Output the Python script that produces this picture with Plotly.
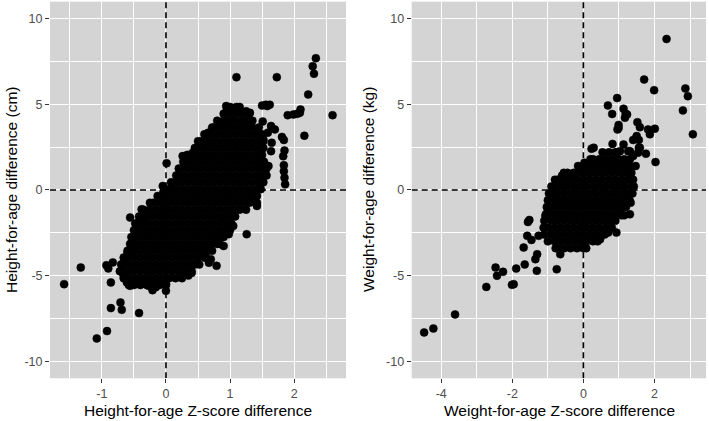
import plotly.graph_objects as go

# ---------------- data: left panel (height-for-age) ----------------
hfa_row_cm = [4.85, 4.45, 4.05, 3.65, 3.25, 2.85, 2.45, 2.05, 1.65, 1.25, 0.85, 0.45, 0.05,
              -0.35, -0.75, -1.15, -1.55, -1.95, -2.35, -2.75, -3.15, -3.55, -3.95, -4.35,
              -4.75, -5.15, -5.55]
hfa_row_z = [
    [0.96, 1.0, 1.1, 1.15],
    [0.9, 0.95, 1.05, 1.15, 1.25, 1.3],
    [0.8, 0.9, 1.0, 1.1, 1.2, 1.3, 1.35],
    [0.72, 0.75, 0.85, 0.95, 1.05, 1.15, 1.25, 1.35, 1.45],
    [0.6, 0.7, 0.8, 0.9, 1.0, 1.1, 1.2, 1.3, 1.4, 1.5],
    [0.5, 0.55, 0.65, 0.75, 0.85, 0.95, 1.05, 1.15, 1.25, 1.35, 1.45, 1.52],
    [0.45, 0.5, 0.6, 0.7, 0.8, 0.9, 1.0, 1.1, 1.2, 1.3, 1.4, 1.5, 1.52],
    [0.33, 0.35, 0.45, 0.55, 0.65, 0.75, 0.85, 0.95, 1.05, 1.15, 1.25, 1.35, 1.45, 1.5],
    [0.27, 0.3, 0.4, 0.5, 0.6, 0.7, 0.8, 0.9, 1.0, 1.1, 1.2, 1.3, 1.4, 1.5, 1.53],
    [0.2, 0.25, 0.35, 0.45, 0.55, 0.65, 0.75, 0.85, 0.95, 1.05, 1.15, 1.25, 1.35, 1.45, 1.55, 1.57],
    [0.16, 0.2, 0.3, 0.4, 0.5, 0.6, 0.7, 0.8, 0.9, 1.0, 1.1, 1.2, 1.3, 1.4, 1.5, 1.57],
    [0.08, 0.15, 0.25, 0.35, 0.45, 0.55, 0.65, 0.75, 0.85, 0.95, 1.05, 1.15, 1.25, 1.35, 1.45, 1.52],
    [0.02, 0.1, 0.2, 0.3, 0.4, 0.5, 0.6, 0.7, 0.8, 0.9, 1.0, 1.1, 1.2, 1.3, 1.4, 1.48],
    [-0.13, -0.05, 0.05, 0.15, 0.25, 0.35, 0.45, 0.55, 0.65, 0.75, 0.85, 0.95, 1.05, 1.15, 1.25, 1.35, 1.42],
    [-0.25, -0.2, -0.1, 0.0, 0.1, 0.2, 0.3, 0.4, 0.5, 0.6, 0.7, 0.8, 0.9, 1.0, 1.1, 1.2, 1.3, 1.4, 1.42],
    [-0.35, -0.25, -0.15, -0.05, 0.05, 0.15, 0.25, 0.35, 0.45, 0.55, 0.65, 0.75, 0.85, 0.95, 1.05, 1.15, 1.25],
    [-0.42, -0.4, -0.3, -0.2, -0.1, 0.0, 0.1, 0.2, 0.3, 0.4, 0.5, 0.6, 0.7, 0.8, 0.9, 1.0, 1.08],
    [-0.48, -0.45, -0.35, -0.25, -0.15, -0.05, 0.05, 0.15, 0.25, 0.35, 0.45, 0.55, 0.65, 0.75, 0.85, 0.95, 1.02],
    [-0.5, -0.4, -0.3, -0.2, -0.1, 0.0, 0.1, 0.2, 0.3, 0.4, 0.5, 0.6, 0.7, 0.8, 0.9, 1.0],
    [-0.54, -0.45, -0.35, -0.25, -0.15, -0.05, 0.05, 0.15, 0.25, 0.35, 0.45, 0.55, 0.65, 0.75, 0.85, 0.9],
    [-0.56, -0.5, -0.4, -0.3, -0.2, -0.1, 0.0, 0.1, 0.2, 0.3, 0.4, 0.5, 0.6, 0.7, 0.8, 0.84],
    [-0.6, -0.55, -0.45, -0.35, -0.25, -0.15, -0.05, 0.05, 0.15, 0.25, 0.35, 0.45, 0.55, 0.65, 0.72],
    [-0.66, -0.6, -0.5, -0.4, -0.3, -0.2, -0.1, 0.0, 0.1, 0.2, 0.3, 0.4, 0.5, 0.6, 0.62],
    [-0.7, -0.65, -0.55, -0.45, -0.35, -0.25, -0.15, -0.05, 0.05, 0.15, 0.25, 0.35, 0.45, 0.52],
    [-0.72, -0.7, -0.6, -0.5, -0.4, -0.3, -0.2, -0.1, 0.0, 0.1, 0.2, 0.3, 0.4],
    [-0.66, -0.55, -0.45, -0.35, -0.25, -0.15, -0.05, 0.05, 0.15, 0.25],
    [-0.58, -0.5, -0.4, -0.3, -0.2, -0.1, 0.0],
]
hfa_edge = [
    (-1.59, -5.50), (-1.33, -4.53), (-1.08, -8.67), (-0.92, -8.24), (-0.86, -6.90), (-0.71, -6.57),
    (-0.69, -7.00), (-0.42, -7.19), (-0.86, -5.40), (-0.90, -4.58), (-0.83, -4.23), (-0.93, -4.40),
    (0.01, 1.56), (1.10, 6.59), (1.73, 6.59), (2.34, 7.70), (2.29, 7.23), (2.31, 6.79), (2.22, 5.58),
    (2.60, 4.37), (2.16, 3.17), (2.09, 4.51), (1.99, 4.41), (1.90, 4.37), (2.05, 4.45), (2.10, 4.70),
    (1.86, 0.33), (1.85, 0.72), (1.84, 1.10), (1.84, 1.45), (1.83, 1.97), (1.85, 2.30), (1.81, 3.10),
    (1.84, 2.92), (1.70, 3.54), (1.64, 3.74), (1.59, 3.35), (1.51, 4.00), (1.50, 4.93), (1.56, 4.98),
    (1.62, 4.98), (1.58, 4.90), (1.14, 4.80), (0.95, 4.70), (0.94, 4.90), (0.87, 3.73), (1.26, -2.58),
    (0.98, -2.58), (0.87, -1.70), (0.79, -4.43), (0.67, -4.25), (0.70, -4.05), (0.35, -5.00),
    (0.40, -4.85), (0.00, -5.89), (0.00, -5.50), (-0.16, -5.68), (-0.21, -5.85), (-0.27, -5.60),
    (-0.37, -5.25), (-0.46, -5.40), (-0.56, -5.60), (-0.61, -5.40), (-0.66, -5.00), (-0.56, -1.61),
    (-0.34, -1.70), (-0.38, -1.13), (-0.47, -2.30), (-0.52, -2.90), (-0.60, -3.66), (-0.65, -4.16),
    (1.42, -0.93), (1.39, -0.16), (1.52, 0.82), (1.60, 1.40), (1.64, 2.27), (1.52, 2.95), (1.65, 2.76),
    (1.05, -2.10), (0.64, -3.56), (0.90, -3.27), (0.26, 1.98), (0.42, 2.18), (0.53, 2.57), (0.61, 2.95),
    (-0.05, 0.23), (-0.04, -0.12), (1.13, 4.80), (1.31, 4.51), (1.25, 4.60), (0.84, 3.93), (1.03, 4.02),
    (0.66, 3.35),
]

# ---------------- data: right panel (weight-for-age) ----------------
wfa_row_kg = [2.2, 1.8, 1.4, 1.0, 0.6, 0.2, -0.2, -0.6, -1.0, -1.4, -1.8, -2.2, -2.6, -3.0, -3.4]
wfa_row_z = [
    [0.54, 0.72, 0.9, 0.95],
    [0.2, 0.27, 0.45, 0.63, 0.81, 0.99, 1.15],
    [-0.15, 0.0, 0.18, 0.36, 0.54, 0.72, 0.9, 1.08, 1.26, 1.3],
    [-0.55, -0.45, -0.27, -0.09, 0.09, 0.27, 0.45, 0.63, 0.81, 0.99, 1.17, 1.35],
    [-0.8, -0.72, -0.54, -0.36, -0.18, 0.0, 0.18, 0.36, 0.54, 0.72, 0.9, 1.08, 1.26, 1.4],
    [-0.9, -0.81, -0.63, -0.45, -0.27, -0.09, 0.09, 0.27, 0.45, 0.63, 0.81, 0.99, 1.17, 1.35, 1.42],
    [-0.97, -0.9, -0.72, -0.54, -0.36, -0.18, 0.0, 0.18, 0.36, 0.54, 0.72, 0.9, 1.08, 1.26, 1.38],
    [-1.0, -0.81, -0.63, -0.45, -0.27, -0.09, 0.09, 0.27, 0.45, 0.63, 0.81, 0.99, 1.17, 1.3],
    [-1.03, -0.9, -0.72, -0.54, -0.36, -0.18, 0.0, 0.18, 0.36, 0.54, 0.72, 0.9, 1.08, 1.2],
    [-1.05, -0.99, -0.81, -0.63, -0.45, -0.27, -0.09, 0.09, 0.27, 0.45, 0.63, 0.81, 0.99, 1.05],
    [-1.1, -0.9, -0.72, -0.54, -0.36, -0.18, 0.0, 0.18, 0.36, 0.54, 0.72, 0.9],
    [-1.12, -0.99, -0.81, -0.63, -0.45, -0.27, -0.09, 0.09, 0.27, 0.45, 0.63, 0.8],
    [-1.1, -0.9, -0.72, -0.54, -0.36, -0.18, 0.0, 0.18, 0.36, 0.54, 0.6],
    [-1.0, -0.81, -0.63, -0.45, -0.27, -0.09, 0.09, 0.27, 0.4],
    [-0.78, -0.72, -0.54, -0.36, -0.18, 0.0, 0.08],
]
wfa_edge = [
    (-4.48, -8.32), (-4.22, -8.09), (-3.61, -7.27), (-2.73, -5.66), (-2.47, -4.53), (-2.43, -5.01),
    (-2.26, -4.78), (-2.01, -5.54), (-1.96, -5.50), (-1.89, -4.59), (-1.65, -4.35), (-1.68, -3.36),
    (-1.56, -1.87), (-1.52, -1.75), (-1.31, -4.72), (-0.75, -4.63), (-1.35, -4.04), (-1.30, -3.75),
    (-1.58, -2.68), (-1.46, -2.92), (-1.26, -2.68), (-1.07, -1.51), (-0.65, -3.75),
    (2.34, 8.82), (1.71, 6.45), (1.99, 5.83), (2.87, 5.93), (2.94, 5.48), (2.80, 4.65), (3.08, 3.25),
    (2.03, 1.63), (2.01, 3.58), (1.87, 3.25), (1.82, 3.54), (1.76, 2.12), (1.56, 2.47), (1.56, 2.92),
    (1.52, 3.96), (1.59, 3.67), (1.50, 3.15), (1.40, 2.92), (0.95, 5.37), (0.69, 4.94), (0.81, 4.44),
    (1.13, 4.75), (1.19, 4.45), (1.23, 4.41), (1.17, 4.22), (0.99, 3.62), (0.96, 3.54), (0.99, 3.80),
    (0.29, 2.47), (0.23, 2.41), (-0.60, 0.84), (-0.34, 0.80), (-0.81, -0.22), (-0.78, -0.50),
    (1.33, -0.74), (1.15, -1.48), (1.07, -1.48), (0.70, -2.49), (0.03, 1.59), (0.82, 2.69),
    (1.13, 2.66), (1.31, 2.27), (1.47, 1.40), (1.26, 2.27), (1.03, 2.27), (1.31, -1.42), (0.93, -2.49),
    (0.47, -2.88), (1.40, 1.98), (1.54, 2.18), (1.31, 1.79), (-0.09, 1.20), (1.49, 3.05), (1.59, 2.47),
]

# axis ticks and ranges
hfa_xticks = [-1, 0, 1, 2]
hfa_xminor = [-1.5, -0.5, 0.5, 1.5, 2.5]
hfa_xrange = [-1.81, 2.81]
wfa_xticks = [-4, -2, 0, 2]
wfa_xminor = [-3, -1, 1, 3]
wfa_xrange = [-4.83, 3.45]
y_ticks = [-10, -5, 0, 5, 10]
y_minor = [-7.5, -2.5, 2.5, 7.5]
y_range = [-11, 11]
ref_value = 0  # dashed reference lines at zero


def flatten(rows_y, rows_x, edge):
    xs, ys = [], []
    for yv, xrow in zip(rows_y, rows_x):
        for xv in xrow:
            xs.append(xv)
            ys.append(yv)
    for xv, yv in edge:
        xs.append(xv)
        ys.append(yv)
    return xs, ys


hx, hy = flatten(hfa_row_cm, hfa_row_z, hfa_edge)
wx, wy = flatten(wfa_row_kg, wfa_row_z, wfa_edge)

dash_line = dict(color="black", width=1.6, dash="6px,4px")
fig = go.Figure()
for xa, ya, xr, xs, ys in (("x", "y", hfa_xrange, hx, hy), ("x2", "y2", wfa_xrange, wx, wy)):
    # reference lines (drawn first so the points sit on top)
    fig.add_trace(go.Scatter(x=[ref_value, ref_value], y=y_range, mode="lines", xaxis=xa, yaxis=ya,
                             line=dash_line, showlegend=False, hoverinfo="skip"))
    fig.add_trace(go.Scatter(x=xr, y=[ref_value, ref_value], mode="lines", xaxis=xa, yaxis=ya,
                             line=dash_line, showlegend=False, hoverinfo="skip"))
    fig.add_trace(go.Scatter(x=xs, y=ys, mode="markers", xaxis=xa, yaxis=ya,
                             marker=dict(color="black", size=8, line=dict(width=0.5, color="black")),
                             showlegend=False, hoverinfo="skip"))

FONT = "Liberation Sans, Arial, sans-serif"
PANEL = "#d4d4d4"


def axis_common(ticks, minor, rng):
    return dict(range=rng, tickvals=ticks, ticktext=[str(t) for t in ticks],
                showgrid=True, gridcolor="white", gridwidth=1.1, zeroline=False, showline=False,
                ticks="outside", ticklen=4, tickwidth=1, tickcolor="#333333",
                tickfont=dict(family=FONT, size=12.5, color="#4d4d4d"),
                minor=dict(tickvals=minor, showgrid=True, gridcolor="white", gridwidth=0.5),
                fixedrange=True, automargin=False)


xa1 = axis_common(hfa_xticks, hfa_xminor, hfa_xrange)
xa1.update(domain=[50 / 709, 346 / 709], anchor="y")
xa2 = axis_common(wfa_xticks, wfa_xminor, wfa_xrange)
xa2.update(domain=[411.7 / 709, 706 / 709], anchor="y2")
ya1 = axis_common(y_ticks, y_minor, y_range)
ya1.update(domain=[0.1014, 0.996], anchor="x")
ya2 = axis_common(y_ticks, y_minor, y_range)
ya2.update(domain=[0.1014, 0.996], anchor="x2")

title_font = dict(family=FONT, size=15.5, color="black")
annotations = [
    dict(text="Height-for-age difference (cm)", x=12 / 709, y=1 - 190 / 421, xref="paper", yref="paper",
         textangle=-90, showarrow=False, xanchor="center", yanchor="middle", font=title_font),
    dict(text="Weight-for-age difference (kg)", x=369 / 709, y=1 - 190 / 421, xref="paper", yref="paper",
         textangle=-90, showarrow=False, xanchor="center", yanchor="middle", font=title_font),
    dict(text="Height-for-age Z-score difference", x=198 / 709, y=1 - 410 / 421, xref="paper",
         yref="paper", showarrow=False, xanchor="center", yanchor="middle", font=title_font),
    dict(text="Weight-for-age Z-score difference", x=559 / 709, y=1 - 410 / 421, xref="paper",
         yref="paper", showarrow=False, xanchor="center", yanchor="middle", font=title_font),
]

fig.update_layout(
    width=709, height=421,
    margin=dict(l=0, r=0, t=0, b=0),
    paper_bgcolor="white", plot_bgcolor=PANEL,
    xaxis=xa1, yaxis=ya1, xaxis2=xa2, yaxis2=ya2,
    annotations=annotations,
    showlegend=False,
)

# remove the browser's default 8px page margin so the figure sits at the window's corner
fig.write_html("out.html", config={"displayModeBar": False},
               post_script="document.body.style.margin='0px';document.body.style.overflow='hidden';")
